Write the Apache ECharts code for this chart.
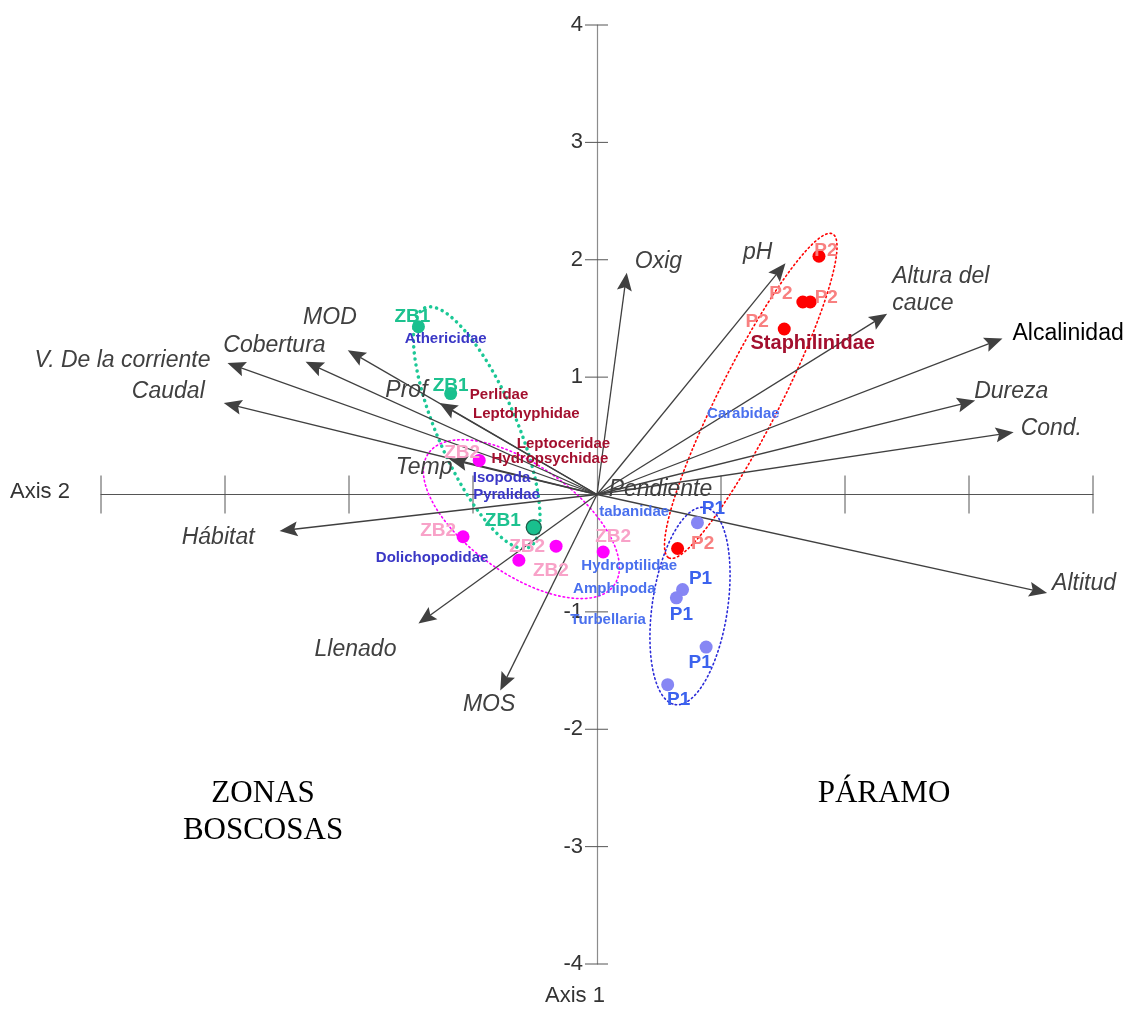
<!DOCTYPE html>
<html>
<head>
<meta charset="utf-8">
<script src="https://cdn.jsdelivr.net/npm/echarts@6/dist/echarts.min.js"></script>
<style>
  html, body { margin: 0; padding: 0; background: #fff; }
  #chart { width: 1131px; height: 1011px; }
</style>
</head>
<body>
<div id="chart"></div>
<script>
// ---- axis ticks ----
const axisTicks = [-4, -3, -2, -1, 0, 1, 2, 3, 4];
const yTickLabels = ['-4', '-3', '-2', '-1', '', '1', '2', '3', '4'];

// ---- environmental variables (biplot vectors) ----
const envNames = ['Oxig', 'pH', 'Altura del\ncauce', 'Alcalinidad', 'Dureza', 'Cond.', 'Altitud', 'Pendiente',
                  'MOD', 'Cobertura', 'V. De la corriente', 'Caudal', 'Prof', 'Temp', 'Hábitat', 'Llenado', 'MOS'];
const envX = [0.24, 1.52, 2.34, 3.27, 3.05, 3.36, 3.63, 0.07,
              -2.01, -2.35, -2.98, -3.01, -1.27, -1.19, -2.56, -1.44, -0.78];
const envY = [1.89, 1.97, 1.54, 1.33, 0.80, 0.53, -0.84, 0.01,
              1.23, 1.13, 1.12, 0.78, 0.78, 0.30, -0.31, -1.10, -1.67];

// ---- sampling sites ----
const siteGroups = ['ZB1', 'ZB2', 'P1', 'P2'];
const zb1X = [-1.44, -1.18, -0.51];
const zb1Y = [1.43, 0.86, -0.28];
const zb2X = [-0.95, -1.08, -0.33, -0.63, 0.05];
const zb2Y = [0.29, -0.36, -0.44, -0.56, -0.49];
const p1X = [0.81, 0.69, 0.64, 0.88, 0.57];
const p1Y = [-0.24, -0.81, -0.88, -1.30, -1.62];
const p2X = [0.65, 1.79, 1.66, 1.72, 1.51];
const p2Y = [-0.46, 2.03, 1.64, 1.64, 1.41];

// ---- taxa ----
const taxaNames = ['Perlidae', 'Leptohyphidae', 'Leptoceridae', 'Hydropsychidae', 'Staphilinidae',
                   'Athericidae', 'Isopoda', 'Pyralidae', 'Dolichopodidae',
                   'Carabidae', 'tabanidae', 'Hydroptilidae', 'Amphipoda', 'Turbellaria'];
const taxaX = [-0.79, -0.57, -0.27, -0.38, 1.74, -1.22, -0.77, -0.73, -1.33, 1.18, 0.30, 0.26, 0.14, 0.09];
const taxaY = [0.85, 0.69, 0.43, 0.30, 1.29, 1.33, 0.14, 0.00, -0.54, 0.69, -0.15, -0.61, -0.80, -1.07];
const taxaGroup = [0, 0, 0, 0, 0, 1, 1, 1, 1, 2, 2, 2, 2, 2];

// ---- group ellipses: centre and two half-axis vectors (axis units) ----
const ellipseGroup = ['ZB1', 'ZB2', 'P1', 'P2'];
const ellCx = [-0.97, -0.61, 0.75, 1.24];
const ellCy = [0.57, -0.21, -0.95, 0.84];
const ellAx = [-0.42, 0.75, -0.12, -0.66];
const ellAy = [1.02, -0.56, -0.84, -1.38];
const ellBx = [0.29, -0.25, 0.30, 0.22];
const ellBy = [0.14, -0.38, -0.05, -0.12];

// ---- presentation ----
const FONT = '"Liberation Sans", Arial, sans-serif';
const SERIF = '"Liberation Serif", "Times New Roman", serif';
const ARROW = '#404040';

// label placement next to each arrow tip: [dx, dy, align]
const envLabelLayout = [
  [8, -11, 'left'], [-13, -11, 'right'], [5, -24, 'left'], [10, -5, 'left'], [-1, -9, 'left'],
  [7, -4, 'left'], [5, -9, 'left'], [3, -4, 'left'],
  [9, -33, 'right'], [20, -16, 'right'], [-17, -2, 'right'], [-19, -11, 'right'],
  [-12, -12, 'right'], [3, 8, 'right'], [-25, 7, 'right'], [-22, 26, 'right'], [15, 14, 'right']
];
const envUpright = { 'Alcalinidad': true };

const siteStyle = {
  ZB1: { dot: '#19c08e', text: '#1dc28f' },
  ZB2: { dot: '#ff00ff', text: '#f8a2c8' },
  P1:  { dot: '#8686f4', text: '#3c63ee' },
  P2:  { dot: '#ff0000', text: '#f88080' }
};
// dots drawn with a dark rim (by group and position)
const siteRimmed = { ZB1: [false, false, true] };
const siteLabelOffset = {
  ZB1: [[-6, -10], [0, -8], [-31, -7]],
  ZB2: [[-17, -8], [-25, -6], [-29, 1], [32, 11], [10, -15]],
  P1:  [[16, -14], [18, -11], [5, 17], [-6, 16], [11, 15]],
  P2:  [[25, -5], [7, -5], [-22, -8], [16, -4], [-27, -7]]
};
const taxaColor = ['#a30f2e', '#3a37c6', '#4a70ee'];
const ellipseStyle = {
  ZB1: { stroke: '#1cc896', lineWidth: 3.5, lineDash: [0.1, 6] },
  ZB2: { stroke: '#ff00ff', lineWidth: 1.6, lineDash: [1.5, 3] },
  P1:  { stroke: '#2a2ad8', lineWidth: 1.6, lineDash: [1.5, 3] },
  P2:  { stroke: '#ff0000', lineWidth: 1.6, lineDash: [1.5, 3] }
};

const siteData = { ZB1: [zb1X, zb1Y], ZB2: [zb2X, zb2Y], P1: [p1X, p1Y], P2: [p2X, p2Y] };

const chart = echarts.init(document.getElementById('chart'), null, { renderer: 'canvas' });

const series = [];

// crossing tick marks on both axes, with the vertical-axis labels beside them
series.push({
  type: 'custom',
  name: 'ticks',
  coordinateSystem: 'cartesian2d',
  silent: true,
  z: 1,
  data: axisTicks.map((t, i) => [t, t, i]).filter(d => d[0] !== 0),
  renderItem: (params, api) => {
    const px = api.coord([api.value(0), 0]);
    const py = api.coord([0, api.value(1)]);
    return {
      type: 'group',
      children: [
        { type: 'line', shape: { x1: px[0], y1: px[1] - 19, x2: px[0], y2: px[1] + 19 },
          style: { stroke: '#555', lineWidth: 1 } },
        { type: 'line', shape: { x1: py[0] - 12, y1: py[1], x2: py[0] + 11, y2: py[1] },
          style: { stroke: '#555', lineWidth: 1 } },
        { type: 'text', x: py[0] - 14, y: py[1],
          style: { text: yTickLabels[api.value(2)], font: '22px ' + FONT, fill: '#333',
                   align: 'right', verticalAlign: 'middle' } }
      ]
    };
  }
});

// group ellipses
series.push({
  type: 'custom',
  name: 'ellipses',
  coordinateSystem: 'cartesian2d',
  silent: true,
  z: 2,
  data: ellipseGroup.map((g, i) => [ellCx[i], ellCy[i], ellAx[i], ellAy[i], ellBx[i], ellBy[i]]),
  renderItem: (params, api) => {
    const g = ellipseGroup[params.dataIndex];
    const cx = api.value(0), cy = api.value(1);
    const ax = api.value(2), ay = api.value(3), bx = api.value(4), by = api.value(5);
    const pts = [];
    const n = 180;
    for (let k = 0; k <= n; k++) {
      const t = (k / n) * Math.PI * 2;
      pts.push(api.coord([cx + Math.cos(t) * ax + Math.sin(t) * bx,
                          cy + Math.cos(t) * ay + Math.sin(t) * by]));
    }
    const st = ellipseStyle[g];
    return {
      type: 'polyline',
      shape: { points: pts },
      style: { stroke: st.stroke, lineWidth: st.lineWidth, lineDash: st.lineDash, lineCap: 'round', fill: null }
    };
  }
});

// environmental vectors
series.push({
  type: 'custom',
  name: 'variables',
  coordinateSystem: 'cartesian2d',
  silent: true,
  z: 3,
  data: envNames.map((n, i) => [envX[i], envY[i]]),
  renderItem: (params, api) => {
    const i = params.dataIndex;
    const o = api.coord([0, 0]);
    const p = api.coord([api.value(0), api.value(1)]);
    const dx = p[0] - o[0], dy = p[1] - o[1];
    const len = Math.hypot(dx, dy) || 1;
    const ux = dx / len, uy = dy / len, nx = -uy, ny = ux;
    const L = 18, W = 7.5;
    const head = len > L * 1.5;
    const children = [];
    const ex = head ? p[0] - ux * L * 0.8 : p[0];
    const ey = head ? p[1] - uy * L * 0.8 : p[1];
    children.push({ type: 'line', shape: { x1: o[0], y1: o[1], x2: ex, y2: ey },
                    style: { stroke: ARROW, lineWidth: 1.3 } });
    if (head) {
      children.push({
        type: 'polygon',
        shape: { points: [
          [p[0], p[1]],
          [p[0] - ux * L + nx * W, p[1] - uy * L + ny * W],
          [p[0] - ux * L * 0.82, p[1] - uy * L * 0.82],
          [p[0] - ux * L - nx * W, p[1] - uy * L - ny * W]
        ] },
        style: { fill: ARROW }
      });
    }
    const lay = envLabelLayout[i];
    const upright = envUpright[envNames[i]];
    children.push({
      type: 'text',
      x: p[0] + lay[0], y: p[1] + lay[1],
      style: {
        text: envNames[i],
        font: (upright ? '' : 'italic ') + '23px ' + FONT,
        fill: upright ? '#000' : '#404040',
        align: lay[2], verticalAlign: 'middle', lineHeight: 27
      }
    });
    return { type: 'group', children };
  }
});

// taxa names
series.push({
  type: 'scatter',
  name: 'taxa',
  silent: true,
  z: 4,
  symbolSize: 0,
  itemStyle: { opacity: 1 },
  data: taxaNames.map((n, i) => ({
    value: [taxaX[i], taxaY[i]],
    name: n,
    label: {
      color: taxaColor[taxaGroup[i]],
      fontSize: n === 'Staphilinidae' ? 20 : 15
    }
  })),
  label: {
    show: true, position: 'inside', formatter: p => p.name,
    fontFamily: FONT, fontWeight: 'bold', opacity: 1
  }
});

// sites
siteGroups.forEach(g => {
  const [xs, ys] = siteData[g];
  const st = siteStyle[g];
  const rim = siteRimmed[g] || [];
  series.push({
    type: 'scatter',
    name: g,
    z: 5,
    symbolSize: 13,
    itemStyle: { color: st.dot, opacity: 1 },
    label: {
      show: true, position: 'inside', formatter: g,
      color: st.text, fontFamily: FONT, fontWeight: 'bold', fontSize: 19
    },
    data: xs.map((x, i) => ({
      value: [x, ys[i]],
      symbolSize: rim[i] ? 15 : 13,
      itemStyle: rim[i] ? { borderColor: '#1d5e4a', borderWidth: 1.3 } : undefined,
      label: { offset: siteLabelOffset[g][i] }
    }))
  });
});

chart.setOption({
  animation: false,
  backgroundColor: '#fff',
  grid: { left: 101, right: 38, top: 25, bottom: 47, containLabel: false },
  xAxis: {
    type: 'value', min: -4, max: 4, interval: 1,
    axisLine: { show: true, onZero: true, lineStyle: { color: '#555', width: 1 } },
    axisTick: { show: false },
    axisLabel: { show: false },
    splitLine: { show: false }
  },
  yAxis: {
    type: 'value', min: -4, max: 4, interval: 1,
    axisLine: { show: true, onZero: true, lineStyle: { color: '#8c8c8c', width: 1.2 } },
    axisTick: { show: false },
    axisLabel: { show: false },
    splitLine: { show: false }
  },
  graphic: [
    { type: 'text', left: 10, top: 481, style: { text: 'Axis 2', font: '22px ' + FONT, fill: '#333' } },
    { type: 'text', left: 545, top: 985, style: { text: 'Axis 1', font: '22px ' + FONT, fill: '#333' } },
    { type: 'text', x: 263, y: 794, style: { text: 'ZONAS', font: '31px ' + SERIF,
        fill: '#000', align: 'center', verticalAlign: 'middle' } },
    { type: 'text', x: 263, y: 831, style: { text: 'BOSCOSAS', font: '31px ' + SERIF,
        fill: '#000', align: 'center', verticalAlign: 'middle' } },
    { type: 'text', x: 884, y: 794, style: { text: 'PÁRAMO', font: '31px ' + SERIF,
        fill: '#000', align: 'center', verticalAlign: 'middle' } }
  ],
  series
});
</script>
</body>
</html>
